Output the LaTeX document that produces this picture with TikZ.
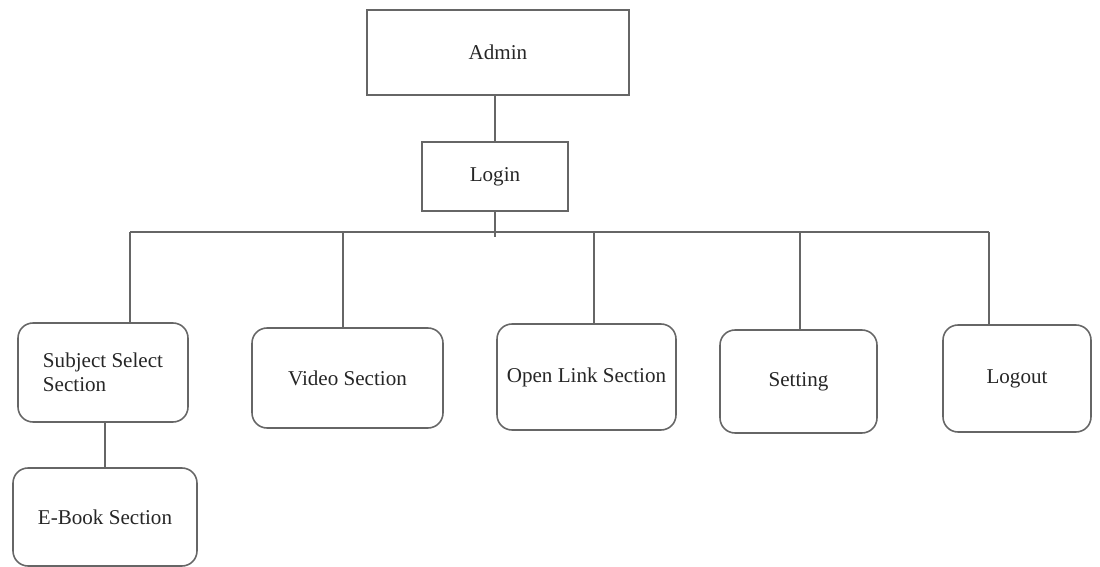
\documentclass[tikz,border=0pt]{standalone}
\usepackage{fontspec}
\setmainfont{Liberation Serif}
\usetikzlibrary{positioning}

\begin{document}
\begin{tikzpicture}[x=0.02cm, y=-0.02cm,
    every node/.style={font=\fontsize{12}{13.6}\selectfont, text=black!85},
    line/.style={draw=black!60, line width=0.9pt},
    box/.style={line, rectangle, inner sep=2pt},
    sec/.style={box, rounded corners=0.3cm}]
  \useasboundingbox (0,0) rectangle (1100,567);

  \node [box, minimum width=5.24cm, minimum height=1.7cm] (admin) at (498,52.5) {Admin};
  \node [box, minimum width=2.92cm, minimum height=1.38cm] (login) at (495,176.5) {Login};

  \node [sec, minimum width=3.4cm, minimum height=1.98cm, align=left] (subject) at (103,372.5) {Subject Select\\Section};
  \node [sec, minimum width=3.82cm, minimum height=2cm] (video) at (347.5,378) {Video Section};
  \node [sec, minimum width=3.58cm, minimum height=2.12cm] (open) at (586.5,377) {Open Link Section};
  \node [sec, minimum width=3.14cm, minimum height=2.06cm] (setting) at (798.5,381.5) {Setting};
  \node [sec, minimum width=2.96cm, minimum height=2.14cm] (logout) at (1017,378.5) {Logout};
  \node [sec, minimum width=3.68cm, minimum height=1.96cm] (ebook) at (105,517) {E-Book Section};

  % admin to login, login down to the bus
  \draw [line] (login.north) -- (login.north |- admin.south);
  \coordinate (tick) at (495,237);
  \draw [line] (login.south) -- (tick);

  \foreach \n/\x in {subject/130,video/343,open/594,setting/800,logout/989} {
    \coordinate (bus-\n) at (\x,232);
    \draw [line] (bus-\n) -- (bus-\n |- \n.north);
  }
  \draw [line] (bus-subject) -- (bus-logout);

  \draw [line] (ebook.north) -- (ebook.north |- subject.south);
\end{tikzpicture}
\end{document}
